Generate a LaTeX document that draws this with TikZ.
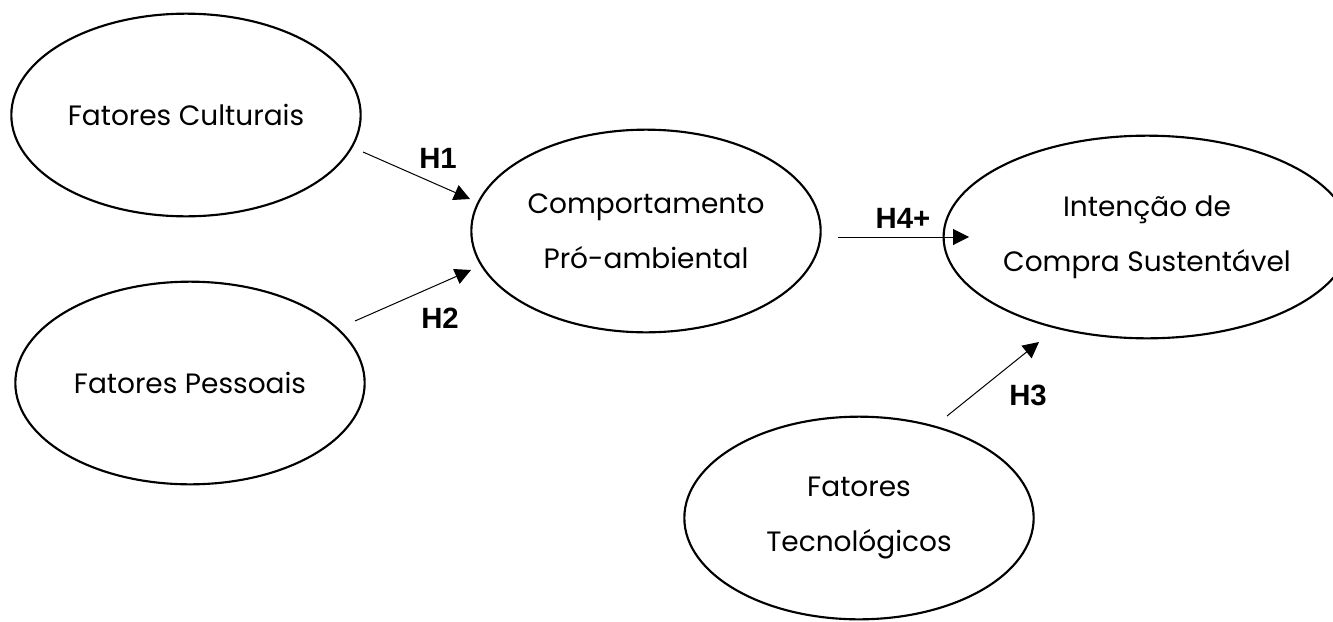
\documentclass[tikz,border=0pt]{standalone}
\usepackage{fontspec}
\setmainfont{Poppins}
\newfontfamily\hypfont{Liberation Sans}
\usetikzlibrary{shapes.geometric,arrows.meta}

\tikzstyle{construct} = [ellipse, draw, line width=1.6pt, minimum width=262pt, minimum height=152pt, inner sep=0pt, align=center, font=\fontsize{21}{41}\selectfont]
\tikzstyle{hyp} = [font=\hypfont\bfseries\fontsize{22}{26}\selectfont, inner sep=0pt]
\tikzstyle{link} = [-{Triangle[length=12pt,width=12pt]}, line width=0.75pt]

\begin{document}
\begin{tikzpicture}[x=0.75pt,y=-0.75pt]
      \useasboundingbox (0,0) rectangle (1333,621);

      % constructs
      \node[construct] (fc) at (186,115) {Fatores Culturais};
      \node[construct] (fp) at (190,383) {Fatores Pessoais};
      \node[construct] (cpa) at (646,231) {Comportamento\\Pró-ambiental};
      \node[construct] (ics) at (1147,237) {Intenção de\\Compra Sustentável};
      \node[construct] (ft) at (859,518) {Fatores\\Tecnológicos};

      % arrow ends
      \coordinate (h1a) at (363,152);
      \coordinate (h1b) at (470,199);
      \coordinate (h2a) at (355,321);
      \coordinate (h2b) at (471,270);
      \coordinate (h4a) at (838,237);
      \coordinate (h4b) at (969,237);
      \coordinate (h3a) at (947,416);
      \coordinate (h3b) at (1039,342);

      \draw[link] (h1a) -- (h1b);
      \draw[link] (h2a) -- (h2b);
      \draw[link] (h4a) -- (h4b);
      \draw[link] (h3a) -- (h3b);

      % hypotheses
      \node[hyp] (lh1) at (438,158) {H1};
      \node[hyp] (lh2) at (440,318) {H2};
      \node[hyp] (lh4) at (903,218) {H4+};
      \node[hyp] (lh3) at (1028,395) {H3};
    \end{tikzpicture}
\end{document}
